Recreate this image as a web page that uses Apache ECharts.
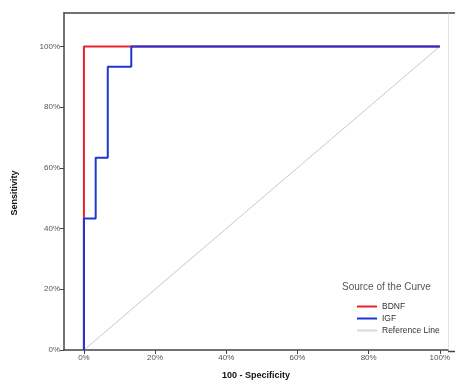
<!DOCTYPE html>
<html><head><meta charset="utf-8">
<script src="https://cdn.jsdelivr.net/npm/echarts@6/dist/echarts.min.js"></script>
<style>html,body{margin:0;padding:0;background:#fff}#c{width:455px;height:385px}</style>
</head><body><div id="c"></div>
<script>
const tickValues = [0, 20, 40, 60, 80, 100];
const bdnfX = [0, 0, 100];
const bdnfY = [0, 100, 100];
const igfX = [0, 0, 3.3, 3.3, 6.7, 6.7, 13.3, 13.3, 100];
const igfY = [0, 43.3, 43.3, 63.3, 63.3, 93.3, 93.3, 100, 100];
const refX = [0, 100];
const refY = [0, 100];
const seriesNames = ['BDNF', 'IGF', 'Reference Line'];

const zip = (a, b) => a.map((v, i) => [v, b[i]]);
const font = 'Liberation Sans, Arial, sans-serif';
const chart = echarts.init(document.getElementById('c'));
chart.setOption({
  animation: false,
  grid: { left: 64, top: 13, right: 7, bottom: 33 },
  xAxis: [{
    type: 'value', min: -5.6, max: 102.3, position: 'bottom',
    name: '100 - Specificity', nameLocation: 'middle', nameGap: 21,
    nameTextStyle: { fontFamily: font, fontSize: 9, fontWeight: 'bold', color: '#111' },
    axisLine: { show: true, lineStyle: { color: '#444', width: 1.5 } },
    axisTick: { show: true, length: 4, customValues: tickValues, lineStyle: { color: '#444' } },
    axisLabel: { customValues: tickValues, formatter: v => v + '%', fontFamily: font, fontSize: 8, color: '#555', margin: 4 },
    splitLine: { show: false }
  }, {
    type: 'value', min: -5.6, max: 102.3, position: 'top',
    axisLine: { show: true, onZero: false, lineStyle: { color: '#444', width: 1.5 } },
    axisTick: { show: false }, axisLabel: { show: false }, splitLine: { show: false }
  }],
  yAxis: [{
    type: 'value', min: 0, max: 111, position: 'left',
    axisLine: { show: true, onZero: false, lineStyle: { color: '#444', width: 1.5 } },
    axisTick: { show: true, length: 4, customValues: tickValues, lineStyle: { color: '#444' } },
    axisLabel: { customValues: tickValues, formatter: v => v + '%', fontFamily: font, fontSize: 8, color: '#555', margin: 4 },
    splitLine: { show: false }
  }, {
    type: 'value', min: 0, max: 111, position: 'right',
    axisLine: { show: true, onZero: false, lineStyle: { color: '#e2e2e2', width: 1 } },
    axisTick: { show: false }, axisLabel: { show: false }, splitLine: { show: false }
  }],
  legend: {
    orient: 'vertical', left: 352, top: 297, itemGap: 3,
    itemWidth: 20, itemHeight: 2, icon: 'rect',
    textStyle: { fontFamily: font, fontSize: 8.5, color: '#333' },
    data: seriesNames.map((n, i) => ({ name: n, icon: 'rect', itemStyle: i === 2 ? { color: '#d8d8d8' } : undefined }))
  },
  graphic: [{
    type: 'text', left: 342, top: 282,
    style: { text: 'Source of the Curve', fontFamily: font, fontSize: 10, fill: '#555' }
  }, {
    type: 'text', x: 15, y: 193, rotation: Math.PI / 2,
    style: { text: 'Sensitivity', fontFamily: font, fontSize: 9, fontWeight: 'bold', fill: '#111', align: 'center', verticalAlign: 'middle' }
  }, {
    type: 'line', shape: { x1: 448, y1: 13, x2: 455, y2: 13 }, style: { stroke: '#444', lineWidth: 1.5 }
  }, {
    type: 'line', shape: { x1: 448, y1: 351.5, x2: 455, y2: 351.5 }, style: { stroke: '#444', lineWidth: 1.5 }
  }],
  series: [{
    name: seriesNames[2], type: 'line', data: zip(refX, refY), showSymbol: false,
    lineStyle: { color: '#c8c8c8', width: 1 }, itemStyle: { color: '#c8c8c8' }, z: 1
  }, {
    name: seriesNames[0], type: 'line', data: zip(bdnfX, bdnfY), showSymbol: false,
    lineStyle: { color: '#e8222e', width: 2 }, itemStyle: { color: '#e8222e' }, z: 2
  }, {
    name: seriesNames[1], type: 'line', data: zip(igfX, igfY), showSymbol: false,
    lineStyle: { color: '#1f35d6', width: 2 }, itemStyle: { color: '#1f35d6' }, z: 3
  }]
});
</script>
</body></html>
